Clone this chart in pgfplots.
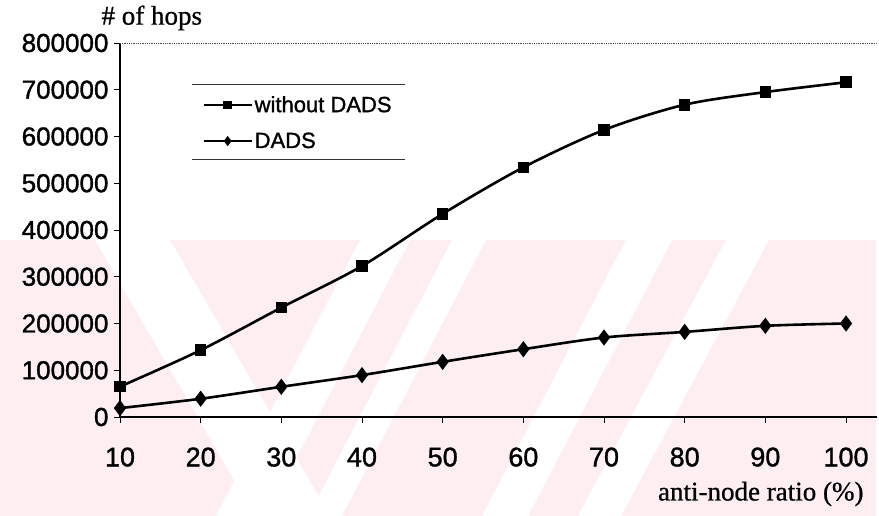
\documentclass[border=0pt]{standalone}
\usepackage{pgfplots}
\pgfplotsset{compat=1.18}
\usepackage{fontspec}
\setmainfont{Liberation Serif}
\newfontface\arialfb{Liberation Sans}[FakeBold=1.2]
\newfontface\timesfb{Liberation Serif}[FakeBold=0.8]
\definecolor{wm}{RGB}{253,238,241}
\begin{document}
\begin{tikzpicture}[x=1pt,y=1pt]
\useasboundingbox (0,0) rectangle (879,516);
% faint watermark of the scanned page (decoration only)
\begin{scope}
\clip (0,0) rectangle (876,276);
\fill[wm] (0,0) rectangle (876,276);
\fill[white] (95,276) -- (170,276) -- (330,0) -- (255,0) -- cycle;
\fill[white] (360,276) -- (410,276) -- (266,0) -- (216,0) -- cycle;
\fill[white] (452,276) -- (486,276) -- (342,0) -- (308,0) -- cycle;
\fill[white] (626,276) -- (672,276) -- (528,0) -- (482,0) -- cycle;
\fill[white] (726,276) -- (769,276) -- (621,0) -- (578,0) -- cycle;
\end{scope}
\coordinate (A) at (120,99);
\begin{axis}[
  at={(A)}, anchor=south west,
  scale only axis, width=757pt, height=374pt,
  xmin=10, xmax=103.84, ymin=0, ymax=800000,
  xtick={10,20,...,100}, ytick={0,100000,...,800000},
  xtick pos=bottom, ytick pos=left,
  scaled y ticks=false,
  yticklabel style={/pgf/number format/fixed, /pgf/number format/1000 sep={}, anchor=east, xshift=-2pt,
    font=\arialfb\fontsize{26}{26}\selectfont},
  xticklabel style={yshift=-21pt, font=\arialfb\fontsize{27}{27}\selectfont},
  /pgf/number format/assume math mode=true,
  axis line style={draw=none},
  ytick style={draw=black, line width=0.8pt},
  xtick style={draw=black, line width=0.6pt},
  major tick length=6pt,
  tick align=outside,
  clip=false,
  legend style={draw=none, fill=none, at={(0.105,0.869)}, anchor=north west,
    font=\arialfb\fontsize{22}{22}\selectfont, row sep=15pt,
    /tikz/every even column/.append style={column sep=2pt}},
  legend cell align=left,
  legend image code/.code={
    \draw[#1, line width=2pt] (-5pt,0pt) -- (43pt,0pt);
    \draw[#1, mark size=3pt] plot coordinates {(19pt,0pt)};
  },
]
\draw[black, line width=1.5pt] (rel axis cs:0,0) -- (rel axis cs:0,1);
\draw[black, line width=2.5pt] (rel axis cs:0,0) -- (rel axis cs:1,0);
\draw[black!70, line width=0.8pt, densely dotted] (rel axis cs:0,1) -- (rel axis cs:1,1);
\addplot[black, line width=2.6pt, smooth, tension=0.5, mark=square*, mark size=4.5pt,
  mark options={solid}]
  coordinates {(10,65000) (20,143000) (30,234000) (40,323000) (50,434500)
               (60,534000) (70,614000) (80,668000) (90,695000) (100,716000)};
\addlegendentry{without DADS}
\addplot[black, line width=2.6pt, smooth, tension=0.5, mark=diamond*, mark size=6pt,
  mark options={solid}]
  coordinates {(10,19000) (20,39000) (30,64600) (40,89600) (50,118000)
               (60,145000) (70,170000) (80,182000) (90,195000) (100,200000)};
\addlegendentry{DADS}
\end{axis}
\draw[black!80, line width=1pt] (192,431) -- (405,431);
\draw[black!80, line width=1pt] (192,356) -- (405,356);
\node[anchor=west, font=\timesfb\fontsize{27}{27}\selectfont] at (98,498) {\# of hops};
\node[anchor=east, font=\timesfb\fontsize{27}{27}\selectfont] at (867,22) {anti-node ratio (\%)};
\end{tikzpicture}
\end{document}
